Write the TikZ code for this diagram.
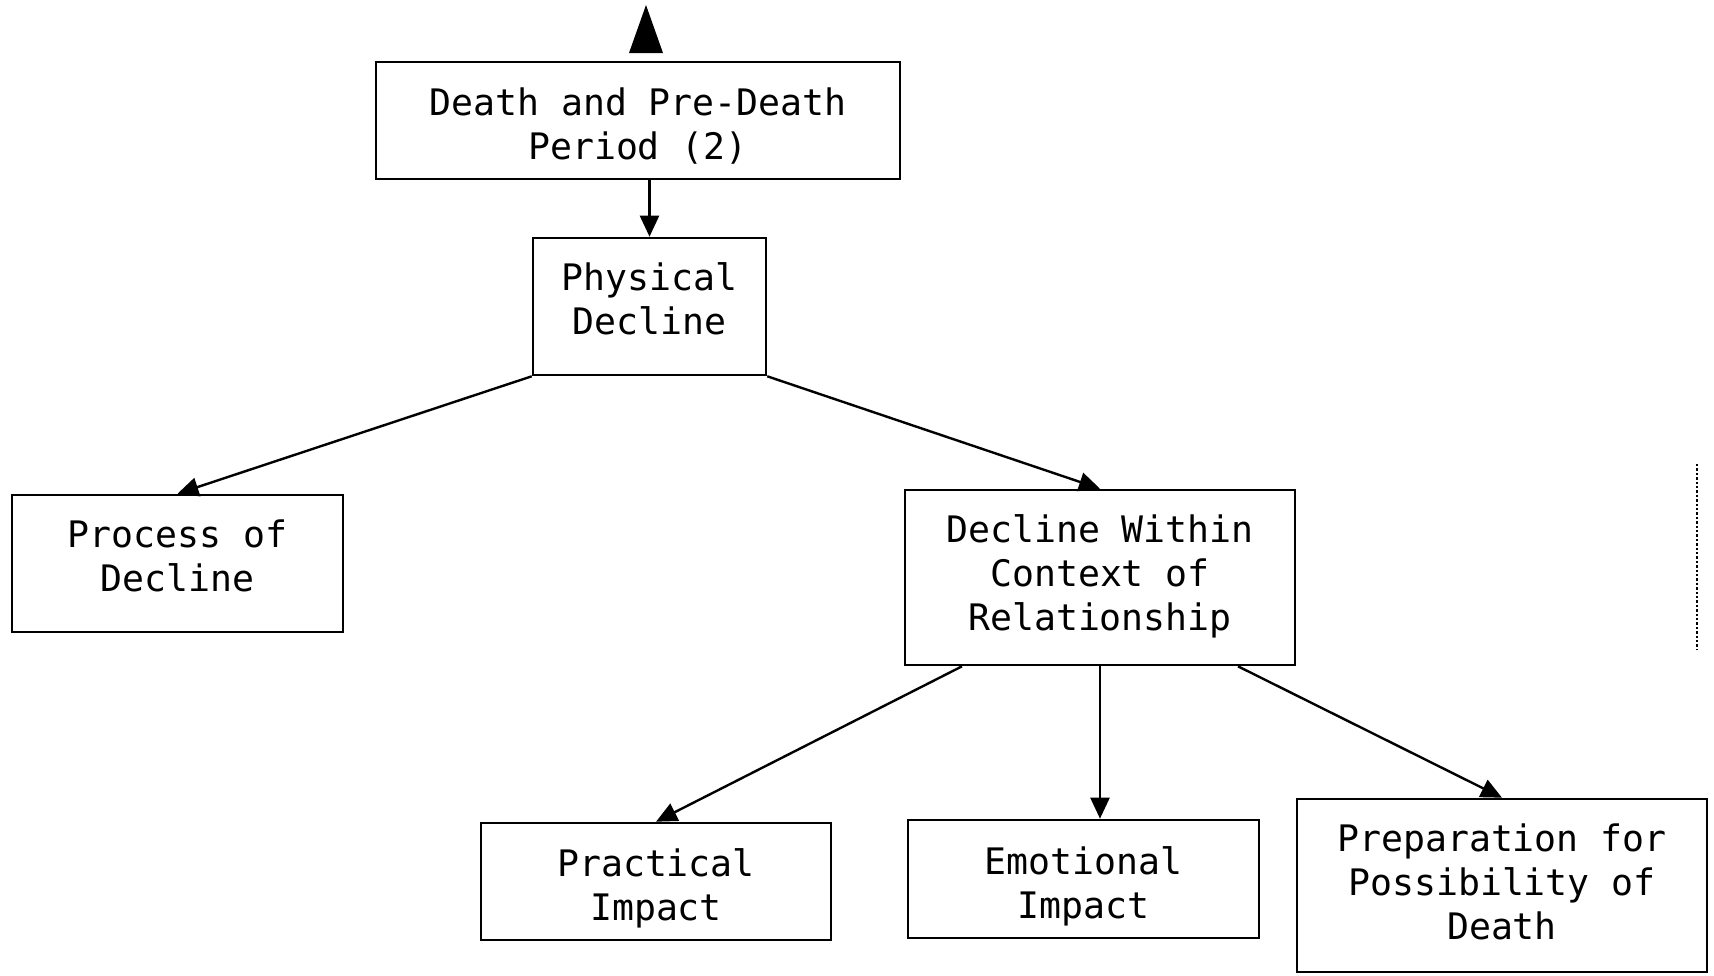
\documentclass[tikz,border=0pt]{standalone}
\usepackage{fontspec}
\setmonofont{DejaVu Sans Mono}
\usetikzlibrary{arrows.meta,calc}
% centred stack of lines, shifted up by #1 from the box centre
\newcommand{\boxlines}[2]{\raisebox{#1}[0pt][0pt]{\begin{tabular}{@{}c@{}}#2\end{tabular}}}
\tikzset{
  box/.style={draw, line width=2.6pt, inner sep=0pt, align=center,
    font=\ttfamily\fontsize{36.5}{44}\selectfont},
  link/.style={line width=2.4pt, -{Triangle[length=21pt,width=19pt]}}
}
\begin{document}
\begin{tikzpicture}[x=1pt,y=-1pt]
\useasboundingbox (0,0) rectangle (1714,975);
% boxes: centre, width, height in page pixels
\node[box, minimum width=524pt, minimum height=117pt] (top)  at (638,120.5) {\boxlines{-14pt}{Death and Pre-Death\\Period (2)}};
\node[box, minimum width=233pt, minimum height=137pt] (phys) at (649.5,306.5) {\boxlines{-3pt}{Physical\\Decline}};
\node[box, minimum width=331pt, minimum height=137pt] (proc) at (177.5,563.5) {\boxlines{-3pt}{Process of\\Decline}};
\node[box, minimum width=390pt, minimum height=175pt] (ctx)  at (1100,577.5) {\boxlines{-6pt}{Decline Within\\Context of\\Relationship}};
\node[box, minimum width=350pt, minimum height=117pt] (prac) at (656,881.5) {\boxlines{-14pt}{Practical\\Impact}};
\node[box, minimum width=351pt, minimum height=118pt] (emo)  at (1083.5,879) {\boxlines{-15pt}{Emotional\\Impact}};
\node[box, minimum width=410pt, minimum height=173pt] (prep) at (1502,885.5) {\boxlines{-7pt}{Preparation for\\Possibility of\\Death}};
% upward pointer above the top box
\fill (646,5) -- (663,53) -- (629,53) -- cycle;
% connectors
\draw[link] (phys.north |- top.south) -- (phys.north);
\draw[link] (phys.south west) -- (proc.north);
\draw[link] (phys.south east) -- (ctx.north);
\draw[link] ($(ctx.south)+(-138,0)$) -- (prac.north);
\draw[link] (ctx.south) -- (ctx.south |- emo.north);
\draw[link] ($(ctx.south)+(138,0)$) -- (prep.north);
% dotted margin rule
\draw[line width=2.4pt, dotted] (1697,464) -- (1697,650);
\end{tikzpicture}
\end{document}
